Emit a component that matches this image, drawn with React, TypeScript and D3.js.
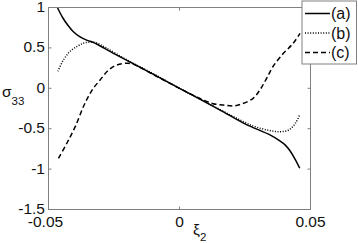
import React from "react";
import * as d3 from "d3";

const aX = [-0.0466, -0.0445, -0.0426, -0.0405, -0.0381, -0.035, -0.033, -0.025, -0.015, 0, 0.015, 0.025, 0.0347, 0.0383, 0.0403, 0.0421, 0.044, 0.0459];
const aY = [1.0, 0.87, 0.78, 0.7, 0.64, 0.59, 0.57, 0.43, 0.26, 0.0, -0.26, -0.44, -0.58, -0.65, -0.7, -0.77, -0.87, -0.99];

const bX = [-0.0464, -0.0445, -0.042, -0.039, -0.0365, -0.0343, -0.032, -0.028, -0.02, -0.01, 0, 0.01, 0.02, 0.028, 0.034, 0.0383, 0.0417, 0.0443, 0.0458];
const bY = [0.21, 0.34, 0.45, 0.52, 0.56, 0.57, 0.565, 0.5, 0.35, 0.18, 0.0, -0.17, -0.34, -0.465, -0.52, -0.537, -0.516, -0.43, -0.33];

const cX = [-0.0462, -0.043, -0.0398, -0.0367, -0.0348, -0.0329, -0.0303, -0.0271, -0.0239, -0.0196, -0.017, -0.0145, -0.01, 0, 0.008, 0.0128, 0.0167, 0.0205, 0.0237, 0.0281, 0.0307, 0.0332, 0.0357, 0.0396, 0.0434, 0.046];
const cY = [-0.866, -0.68, -0.475, -0.228, -0.104, 0.0, 0.103, 0.226, 0.288, 0.31, 0.29, 0.25, 0.17, 0.0, -0.13, -0.19, -0.207, -0.219, -0.195, -0.124, -0.02, 0.12, 0.27, 0.43, 0.557, 0.68];

const xTicks = [-0.05, 0, 0.05];
const xTickLabels = ["-0.05", "0", "0.05"];
const yTicks = [1, 0.5, 0, -0.5, -1, -1.5];
const yTickLabels = ["1", "0.5", "0", "-0.5", "-1", "-1.5"];
const legendLabels = ["(a)", "(b)", "(c)"];
const dashes = ["none", "1 1.6", "5 3"];

const W = 358, H = 243;
const L = 48.5, R = 310.5, T = 7.5, B = 209.5;
const FONT = "'Liberation Sans', Arial, sans-serif";

export default function App() {
  const x = d3.scaleLinear().domain([-0.05, 0.05]).range([L, R]);
  const y = d3.scaleLinear().domain([-1.5, 1]).range([B, T]);
  const line = d3
    .line<[number, number]>()
    .x((d) => x(d[0]))
    .y((d) => y(d[1]))
    .curve(d3.curveCatmullRom.alpha(0.5));
  const series: [number[], number[]][] = [
    [aX, aY],
    [bX, bY],
    [cX, cY],
  ];
  const frame = "#808080";
  return (
    <svg width={W} height={H} style={{ position: "absolute", left: 0, top: 0, background: "#fff" }}>
      <rect x={0} y={0} width={W} height={H} fill="#fff" />
      {series.map(([xs, ys], i) => (
        <path
          key={i}
          d={line(xs.map((v, j) => [v, ys[j]] as [number, number])) || ""}
          fill="none"
          stroke="#000"
          strokeWidth={1.5}
          strokeDasharray={dashes[i]}
        />
      ))}
      <rect x={L} y={T} width={R - L} height={B - T} fill="none" stroke={frame} strokeWidth={1} />
      {yTicks.map((t, i) => (
        <g key={"y" + i}>
          <line x1={L} x2={L + 3} y1={y(t)} y2={y(t)} stroke={frame} />
          <line x1={R} x2={R - 3} y1={y(t)} y2={y(t)} stroke={frame} />
          <text x={45} y={y(t) + 4.5} textAnchor="end" fontFamily={FONT} fontSize={15.5} fill="#111">
            {yTickLabels[i]}
          </text>
        </g>
      ))}
      {xTicks.map((t, i) => (
        <g key={"x" + i}>
          <line x1={x(t)} x2={x(t)} y1={B} y2={B - 3} stroke={frame} />
          <line x1={x(t)} x2={x(t)} y1={T} y2={T + 3} stroke={frame} />
          <text x={x(t) - (i === 0 ? 3 : 0)} y={227} textAnchor="middle" fontFamily={FONT} fontSize={15.5} fill="#111">
            {xTickLabels[i]}
          </text>
        </g>
      ))}
      <text x={2} y={97} fontFamily={FONT} fontSize={15.5} fill="#111">
        σ
        <tspan fontSize={11.5} dy={8}>33</tspan>
      </text>
      <text x={193} y={235} fontFamily={FONT} fontSize={15.5} fill="#111">
        ξ
        <tspan fontSize={11.5} dy={6}>2</tspan>
      </text>
      <rect x={302} y={1} width={54.5} height={63} fill="#fff" stroke={frame} strokeWidth={1} />
      {legendLabels.map((lab, i) => {
        const ly = 13.5 + i * 19.5;
        return (
          <g key={"l" + i}>
            <line x1={305} x2={330} y1={ly} y2={ly} stroke="#000" strokeWidth={1.5} strokeDasharray={dashes[i]} />
            <text x={331} y={ly + 5.5} fontFamily={FONT} fontSize={16} fill="#111">
              {lab}
            </text>
          </g>
        );
      })}
    </svg>
  );
}
